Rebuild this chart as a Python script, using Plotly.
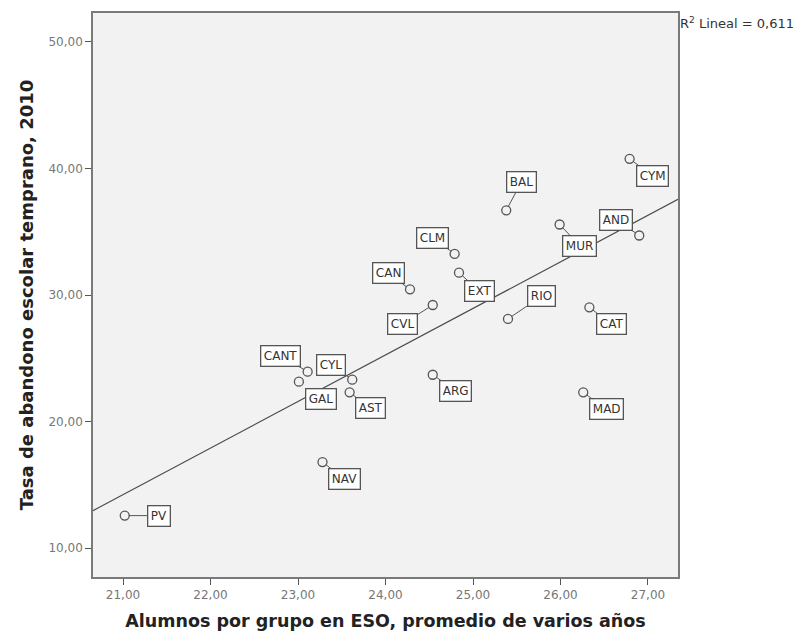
import numpy as np
import plotly.graph_objects as go

# ---- data ----
regiones = ["PV", "NAV", "GAL", "CANT", "CYL", "AST", "CVL", "ARG", "CAN",
            "CLM", "EXT", "BAL", "MUR", "AND", "CYM", "RIO", "CAT", "MAD"]
alumnos = [21.02, 23.28, 23.01, 23.11, 23.62, 23.59, 24.54, 24.54, 24.28,
           24.79, 24.84, 25.38, 25.99, 26.90, 26.79, 25.40, 26.33, 26.26]
abandono = [12.57, 16.80, 23.15, 23.94, 23.31, 22.31, 29.21, 23.70, 30.45,
            33.25, 31.76, 36.69, 35.57, 34.70, 40.76, 28.11, 29.03, 22.31]
x_ticks = [21, 22, 23, 24, 25, 26, 27]
y_ticks = [10, 20, 30, 40, 50]
r2_text = "R<sup>2</sup> Lineal = 0,611"

# ---- layout config (label offsets in pixels) ----
label_offsets = {
    "PV": (34, 0), "NAV": (22, 17), "GAL": (22, 17), "CANT": (-27, -16),
    "CYL": (-21, -15), "AST": (21, 16), "CVL": (-30, 19), "ARG": (23, 16),
    "CAN": (-22, -16), "CLM": (-22, -16), "EXT": (20, 18), "BAL": (15, -28),
    "MUR": (20, 21), "AND": (-23, -16), "CYM": (23, 17), "RIO": (34, -23),
    "CAT": (22, 17), "MAD": (23, 17),
}
x_range = [20.657, 27.343]
y_range = [7.72, 52.28]

slope, intercept = np.polyfit(alumnos, abandono, 1)
fit_x = np.array(x_range)
fit_y = slope * fit_x + intercept

fig = go.Figure()
fig.add_trace(go.Scatter(
    x=fit_x, y=fit_y, mode="lines",
    line=dict(color="#4a4a4a", width=1.2), hoverinfo="skip", showlegend=False))
fig.add_trace(go.Scatter(
    x=alumnos, y=abandono, mode="markers", text=regiones,
    marker=dict(symbol="circle-open", size=9, color="#555555",
                line=dict(width=1.3, color="#555555")),
    showlegend=False))

annotations = []
for name, xv, yv in zip(regiones, alumnos, abandono):
    ax, ay = label_offsets[name]
    annotations.append(dict(
        x=xv, y=yv, xref="x", yref="y", text=name, showarrow=True,
        arrowhead=0, arrowwidth=1, arrowcolor="#555555", ax=ax, ay=ay,
        standoff=4,
        font=dict(family="DejaVu Sans", size=12, color="#333333"),
        bgcolor="white", bordercolor="#555555", borderwidth=1.3, borderpad=2.5))
annotations.append(dict(
    x=1.0, y=1.0, xref="paper", yref="paper", xanchor="left", yanchor="top",
    xshift=0, yshift=0, text=r2_text, showarrow=False,
    font=dict(family="DejaVu Sans", size=13, color="#333333")))

fig.update_layout(
    width=795, height=628,
    margin=dict(l=85, r=125, t=3, b=59),
    paper_bgcolor="white", plot_bgcolor="#f2f2f2",
    separators=",.",
    annotations=annotations,
    font=dict(family="DejaVu Sans"),
)
fig.update_xaxes(
    range=x_range, tickvals=x_ticks, tickformat=".2f",
    showgrid=False, zeroline=False,
    ticks="outside", ticklen=6, tickcolor="#555555", tickwidth=1,
    showline=True, linecolor="#7a7a7a", linewidth=1.5, mirror=True,
    tickfont=dict(size=12, color="#777777"),
    title=dict(text="<b>Alumnos por grupo en ESO, promedio de varios años</b>",
               font=dict(size=17.5, color="#222222", family="DejaVu Sans"),
               standoff=14))
fig.update_yaxes(
    range=y_range, tickvals=y_ticks, tickformat=".2f",
    showgrid=False, zeroline=False,
    ticks="outside", ticklen=6, tickcolor="#555555", tickwidth=1,
    showline=True, linecolor="#7a7a7a", linewidth=1.5, mirror=True,
    tickfont=dict(size=12, color="#777777"),
    title=dict(text="<b>Tasa de abandono escolar temprano, 2010</b>",
               font=dict(size=18, color="#222222", family="DejaVu Sans"),
               standoff=10))

fig.write_html("out.html")
